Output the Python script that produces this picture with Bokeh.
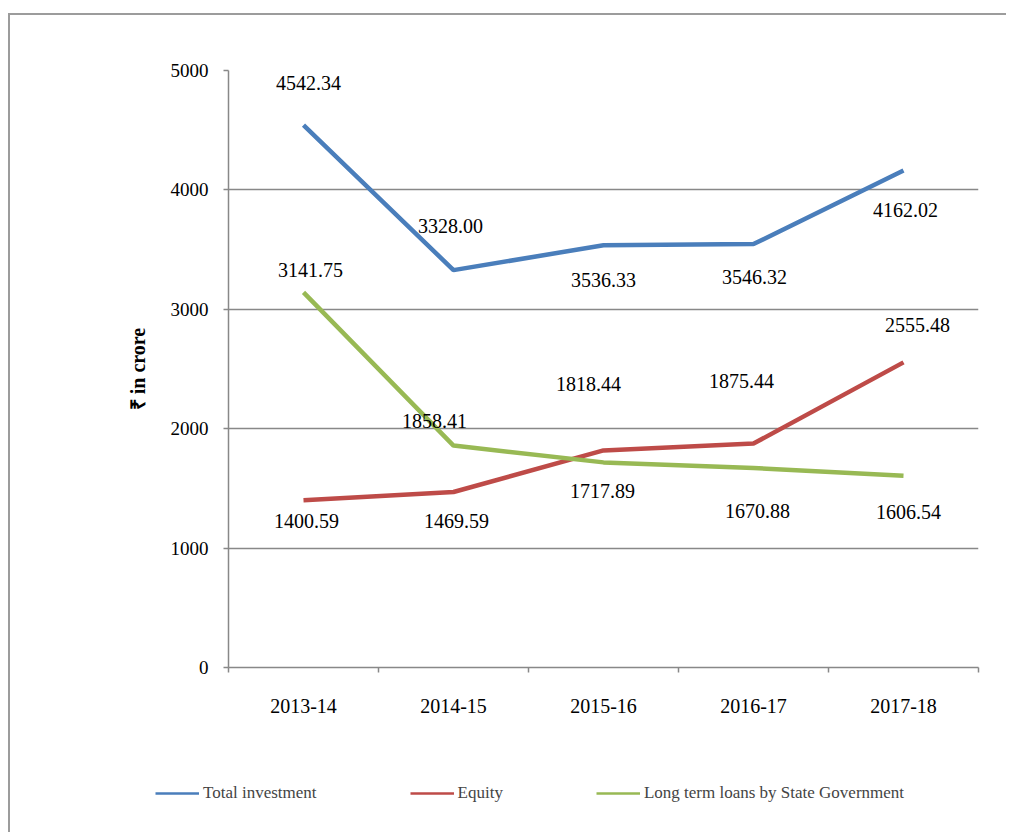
from bokeh.plotting import figure
from bokeh.layouts import column
from bokeh.models import (ColumnDataSource, FixedTicker, Legend, LegendItem, Range1d)
from bokeh.core.properties import value
from bokeh.embed import file_html
from bokeh.resources import INLINE

# ---- data ----
years = ["2013-14", "2014-15", "2015-16", "2016-17", "2017-18"]
total_investment = [4542.34, 3328.00, 3536.33, 3546.32, 4162.02]
equity = [1400.59, 1469.59, 1818.44, 1875.44, 2555.48]
long_term_loans = [3141.75, 1858.41, 1717.89, 1670.88, 1606.54]
y_ticks = [0, 1000, 2000, 3000, 4000, 5000]

series_names = ["Total investment", "Equity", "Long term loans by State Government"]
colors = ["#4A7EBB", "#BE4B48", "#98B954"]

# label offsets in pixels (dx, dy positive = down)
label_dx = [[5, -3, 0, 1, 2], [3, 3, -15, -12, 14], [7, -19, -1, 4, 5]]
label_dy = [[-42, -44, 35, 33, 39], [21, 29, -66, -63, -37], [-22, -25, 29, 43, 36]]

FONT = "Liberation Serif"
GRAY = "#888888"

xs = [i + 0.5 for i in range(len(years))]

# content origin is shifted by CSS margin+border to (10, 15)
p = figure(frame_width=750, frame_height=597, output_backend="svg",
           toolbar_location=None, x_range=Range1d(0, len(years)),
           y_range=Range1d(0, 5000),
           min_border_left=218, min_border_right=28,
           min_border_top=55, min_border_bottom=60)
p.outline_line_color = None
p.background_fill_color = "white"
p.border_fill_color = "white"

# x axis
p.xaxis.ticker = FixedTicker(ticks=xs, minor_ticks=list(range(len(years) + 1)))
p.xaxis.major_label_overrides = {x: y for x, y in zip(xs, years)}
p.xaxis.major_tick_out = 0
p.xaxis.major_tick_in = 0
p.xaxis.minor_tick_out = 5
p.xaxis.minor_tick_in = 0
p.xaxis.minor_tick_line_color = GRAY
p.xaxis.minor_tick_line_width = 1.5
p.xaxis.axis_line_color = GRAY
p.xaxis.axis_line_width = 1.5
p.xaxis.major_label_text_font = FONT
p.xaxis.major_label_text_font_size = "20px"
p.xaxis.major_label_text_color = "black"
p.xaxis.major_label_standoff = 26
p.xgrid.grid_line_color = None

# y axis
p.yaxis.ticker = FixedTicker(ticks=y_ticks, minor_ticks=[])
p.yaxis.major_tick_out = 5
p.yaxis.major_tick_in = 0
p.yaxis.major_tick_line_color = GRAY
p.yaxis.major_tick_line_width = 1.5
p.yaxis.axis_line_color = GRAY
p.yaxis.axis_line_width = 1.5
p.yaxis.major_label_text_font = FONT
p.yaxis.major_label_text_font_size = "19px"
p.yaxis.major_label_text_color = "black"
p.yaxis.major_label_standoff = 15
p.yaxis.axis_label = "₹ in crore"
p.yaxis.axis_label_text_font = FONT
p.yaxis.axis_label_text_font_style = "bold"
p.yaxis.axis_label_text_font_size = "20px"
p.yaxis.axis_label_text_color = "black"
p.yaxis.axis_label_standoff = 19
p.ygrid.grid_line_color = GRAY
p.ygrid.grid_line_width = 1.5
p.ygrid.ticker = FixedTicker(ticks=y_ticks)

all_series = [total_investment, equity, long_term_loans]
for s, vals in enumerate(all_series):
    p.line(xs, vals, line_color=colors[s], line_width=4.5)
for s, vals in enumerate(all_series):
    src = ColumnDataSource(dict(x=xs, y=vals,
                                t=["%.2f" % v for v in vals],
                                dx=label_dx[s], dy=label_dy[s]))
    p.text("x", "y", text="t", source=src, x_offset="dx", y_offset="dy",
           text_align="center", text_baseline="middle",
           text_font=value(FONT), text_font_size="20px", text_color="black")

# ---- legend strip (separate figure, so nothing is clipped) ----
lf = figure(width=996, height=105, output_backend="svg", toolbar_location=None,
            x_axis_location=None, y_axis_location=None,
            x_range=Range1d(100, 101), y_range=Range1d(0, 1),
            min_border=0, min_border_left=0, min_border_right=0,
            min_border_top=0, min_border_bottom=0)
lf.outline_line_color = None
lf.xgrid.grid_line_color = None
lf.ygrid.grid_line_color = None
lf.background_fill_color = "white"
lf.border_fill_color = "white"
leg_x = 145
if "frame_align" in lf.properties():
    lf.frame_align = False
    p.frame_align = False
else:
    leg_x = -74
leg_renderers = []
for s, vals in enumerate(all_series):
    leg_renderers.append(lf.line(xs, vals, line_color=colors[s], line_width=2.5))
legend = Legend(items=[LegendItem(label=series_names[s], renderers=[leg_renderers[s]])
                       for s in range(3)],
                orientation="horizontal", location=(leg_x, 29),
                padding=0, margin=0, spacing=93, glyph_width=44, glyph_height=20,
                label_height=20, label_standoff=4,
                label_text_font=FONT, label_text_font_size="17px",
                border_line_color=None, background_fill_alpha=0)
lf.add_layout(legend, "center")

layout = column(p, lf, spacing=0)
layout.styles = {"margin-left": "8px", "margin-top": "13px",
                 "border-top": "2px solid #9C9C9C", "border-left": "2px solid #9C9C9C"}

open("out.html", "w").write(file_html(layout, INLINE))
